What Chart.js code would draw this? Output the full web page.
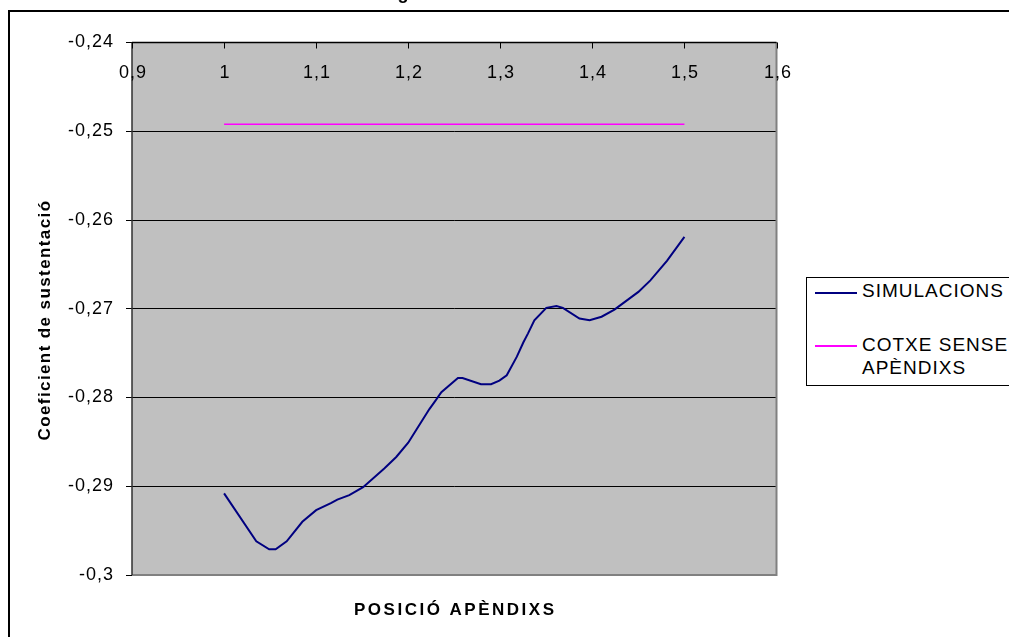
<!DOCTYPE html>
<html>
<head>
<meta charset="utf-8">
<script src="https://cdn.jsdelivr.net/npm/chart.js@4.4.1/dist/chart.umd.min.js"></script>
<style>
  html, body { margin: 0; padding: 0; background: #fff; overflow: hidden; }
  #wrap { position: relative; width: 1009px; height: 637px; }
  canvas { display: block; }
  #legend {
    position: absolute; left: 806px; top: 277px; width: 260px; height: 107px;
    border: 1px solid #000; background: #fff;
    font-family: "Liberation Sans", Arial, sans-serif; font-size: 19px;
    letter-spacing: 1px; line-height: 23px; color: #000;
  }
  #legend .entry { position: absolute; left: 0; width: 100%; }
  #legend .swatch { position: absolute; left: 8px; width: 42px; }
  #legend .label { position: absolute; left: 55px; width: 160px; }
</style>
</head>
<body>
<div id="wrap">
  <canvas id="chart" width="1009" height="637"></canvas>
  <div id="legend"></div>
</div>
<script>
// Axis ticks
const xTickValues = [0.9, 1.0, 1.1, 1.2, 1.3, 1.4, 1.5, 1.6];
const xTickLabels = ['0,9', '1', '1,1', '1,2', '1,3', '1,4', '1,5', '1,6'];
const yTickValues = [-0.30, -0.29, -0.28, -0.27, -0.26, -0.25, -0.24];
const yTickLabels = ['-0,3', '-0,29', '-0,28', '-0,27', '-0,26', '-0,25', '-0,24'];

// Series
const seriesNames = ['SIMULACIONS', 'COTXE SENSE APÈNDIXS'];
const simX = [1.000, 1.035, 1.049, 1.056, 1.068, 1.085, 1.100, 1.116, 1.123, 1.136,
              1.151, 1.174, 1.187, 1.200, 1.209, 1.223, 1.230, 1.236, 1.254, 1.259,
              1.279, 1.290, 1.299, 1.307, 1.318, 1.325, 1.330, 1.337, 1.350, 1.361,
              1.368, 1.386, 1.397, 1.410, 1.424, 1.450, 1.463, 1.481, 1.500];
const simY = [-0.2908, -0.2962, -0.2971, -0.2971, -0.2962, -0.2940, -0.2927, -0.2919, -0.2915, -0.2910,
              -0.2901, -0.2880, -0.2867, -0.2851, -0.2836, -0.2813, -0.2803, -0.2794, -0.2778, -0.2778,
              -0.2785, -0.2785, -0.2781, -0.2775, -0.2754, -0.2738, -0.2728, -0.2713, -0.2699, -0.2697,
              -0.2699, -0.2711, -0.2713, -0.2709, -0.2701, -0.2681, -0.2668, -0.2646, -0.2619];
const refX = [1.0, 1.5];
const refY = [-0.2492, -0.2492];

// Text
const chartTitle = 'g';
const xAxisTitle = 'POSICIÓ APÈNDIXS';
const yAxisTitle = 'Coeficient de sustentació';

const FONT = '"Liberation Sans", Arial, sans-serif';
const seriesColors = ['#000080', '#FF00FF'];

const toPoints = (xs, ys) => xs.map((x, i) => ({ x: x, y: ys[i] }));

// Frame, plot background, top-axis labels and axis titles
const decor = {
  id: 'decor',
  beforeDraw(chart) {
    const { ctx, chartArea: a } = chart;
    ctx.save();
    ctx.fillStyle = '#fff';
    ctx.fillRect(0, 0, chart.width, chart.height);
    // outer frame (continues past the right and bottom edges)
    ctx.strokeStyle = '#000';
    ctx.lineWidth = 2;
    ctx.strokeRect(9, 11, 1200, 800);
    // title line sits above the frame; only its descender reaches the canvas
    ctx.fillStyle = '#000';
    ctx.font = 'bold 18px ' + FONT;
    ctx.textAlign = 'center';
    ctx.textBaseline = 'alphabetic';
    ctx.fillText(chartTitle, 403, -1.5);
    // plot background
    ctx.fillStyle = '#C0C0C0';
    ctx.fillRect(a.left, a.top, a.right - a.left, a.bottom - a.top);
    ctx.restore();
    ctx.letterSpacing = '1px';
  },
  afterDraw(chart) {
    const { ctx, chartArea: a } = chart;
    const xs = chart.scales.x;
    ctx.save();
    // plot frame
    ctx.strokeStyle = '#808080';
    ctx.lineWidth = 2;
    ctx.beginPath();
    ctx.moveTo(a.right, a.top);
    ctx.lineTo(a.right, a.bottom);
    ctx.lineTo(a.left, a.bottom);
    ctx.stroke();
    ctx.strokeStyle = '#303030';
    ctx.lineWidth = 1.5;
    ctx.beginPath();
    ctx.moveTo(a.left, a.bottom);
    ctx.lineTo(a.left, a.top);
    ctx.stroke();
    ctx.strokeStyle = '#000';
    ctx.beginPath();
    ctx.moveTo(a.left, a.top);
    ctx.lineTo(a.right, a.top);
    ctx.stroke();
    // x ticks pointing into the plot, labels below them
    ctx.lineWidth = 1;
    ctx.font = '18px ' + FONT;
    ctx.letterSpacing = '1px';
    ctx.fillStyle = '#000';
    ctx.textAlign = 'center';
    ctx.textBaseline = 'alphabetic';
    xs.ticks.forEach((t, i) => {
      const px = Math.round(xs.getPixelForValue(t.value)) + 0.5;
      ctx.beginPath();
      ctx.moveTo(px, a.top);
      ctx.lineTo(px, a.top + 6);
      ctx.stroke();
      ctx.fillText(xTickLabels[i], px + 0.5, a.top + 35.5);
    });
    // axis titles
    ctx.font = 'bold 17px ' + FONT;
    ctx.letterSpacing = '2.5px';
    ctx.fillText(xAxisTitle, (a.left + a.right) / 2 + 1, 615);
    ctx.letterSpacing = '1.4px';
    ctx.translate(50, 320);
    ctx.rotate(-Math.PI / 2);
    ctx.fillText(yAxisTitle, 0, 0);
    ctx.restore();
  }
};

const chart = new Chart(document.getElementById('chart'), {
  type: 'line',
  data: {
    datasets: [
      { label: seriesNames[0], data: toPoints(simX, simY), borderColor: seriesColors[0],
        borderWidth: 2, pointRadius: 0, tension: 0, fill: false },
      { label: seriesNames[1], data: toPoints(refX, refY), borderColor: seriesColors[1],
        borderWidth: 1.5, pointRadius: 0, tension: 0, fill: false }
    ]
  },
  options: {
    responsive: false,
    animation: false,
    devicePixelRatio: 1,
    layout: { padding: { left: 30, top: 42.5, right: 232.5, bottom: 62 } },
    plugins: { legend: { display: false }, tooltip: { enabled: false }, title: { display: false } },
    scales: {
      x: {
        type: 'linear', position: 'top', min: 0.9, max: 1.6,
        afterBuildTicks: s => { s.ticks = xTickValues.map(v => ({ value: v })); },
        ticks: { display: false },
        grid: { display: false, drawTicks: false },
        border: { display: false }
      },
      y: {
        type: 'linear', position: 'left', min: -0.30, max: -0.24,
        afterBuildTicks: s => { s.ticks = yTickValues.map(v => ({ value: v })); },
        afterFit: s => { s.width = 102; },
        ticks: {
          color: '#000', padding: 12,
          font: { family: FONT, size: 18 },
          callback: (v, i) => yTickLabels[i]
        },
        grid: { color: '#000', lineWidth: 1, tickLength: 6, tickColor: '#000' },
        border: { display: false }
      }
    }
  },
  plugins: [decor]
});

// Legend built from the chart's datasets
const legendTops = [1, 55];
const legendEl = document.getElementById('legend');
chart.data.datasets.forEach((ds, i) => {
  const entry = document.createElement('div');
  entry.className = 'entry';
  entry.style.top = legendTops[i] + 'px';
  const sw = document.createElement('div');
  sw.className = 'swatch';
  sw.style.top = (i === 0 ? 13 : 12) + 'px';
  sw.style.borderTop = '2px solid ' + ds.borderColor;
  const lb = document.createElement('div');
  lb.className = 'label';
  lb.textContent = ds.label;
  entry.appendChild(sw);
  entry.appendChild(lb);
  legendEl.appendChild(entry);
});
</script>
</body>
</html>
